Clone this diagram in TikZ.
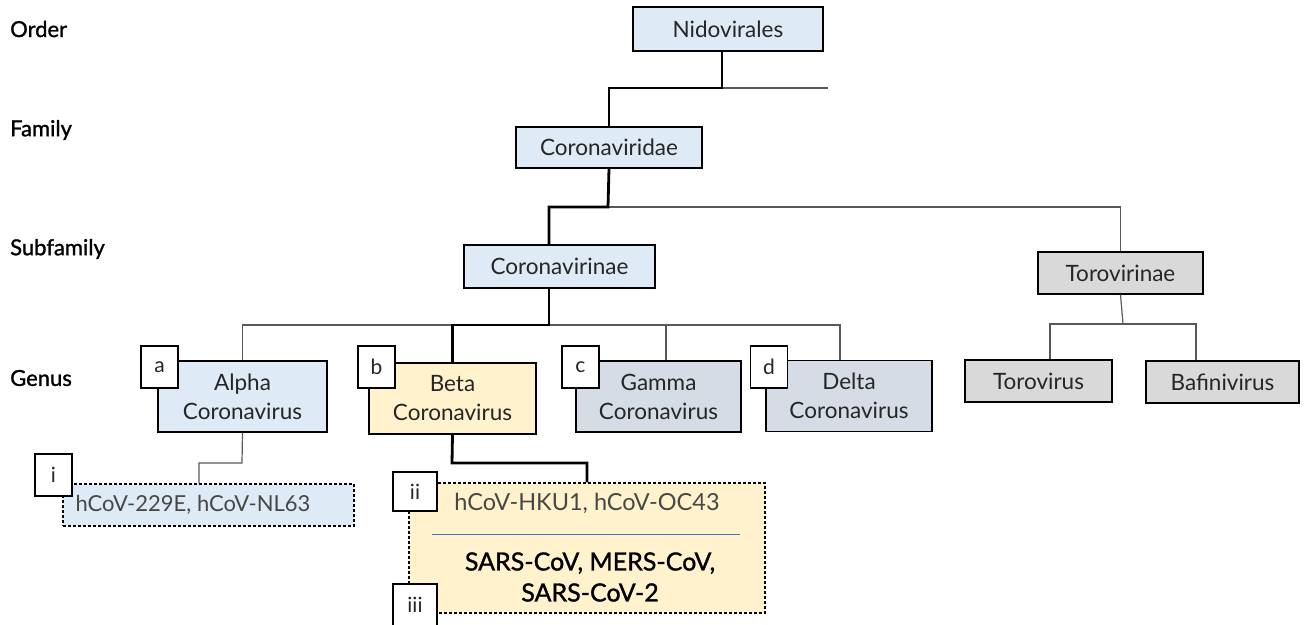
\documentclass[tikz,border=0pt]{standalone}
\usepackage{fontspec}
\setmainfont{Lato}
\newfontfamily\semib[FakeBold=1.2]{Lato}
\definecolor{boxblue}{HTML}{DEEAF6}
\definecolor{boxyellow}{HTML}{FFF2CC}
\definecolor{boxslate}{HTML}{D6DCE5}
\definecolor{boxgrey}{HTML}{D9D9D9}
\definecolor{ink}{HTML}{262626}
\definecolor{wire}{HTML}{595959}
\definecolor{divblue}{HTML}{4472C4}
\begin{document}
\begin{tikzpicture}[x=1pt,y=-1pt]
    \tikzstyle{taxon}=[draw=black, line width=1.3pt, inner sep=0pt, align=center, text=ink,
      font=\fontsize{22.5}{29}\selectfont]
    \tikzstyle{genus}=[taxon, minimum height=71pt]
    \tikzstyle{tag}=[draw=black, fill=white, line width=1.3pt, inner sep=0pt, minimum width=37pt,
      minimum height=42pt, text=ink, font=\fontsize{21}{24}\selectfont]
    \tikzstyle{species}=[draw=black, line width=1.1pt, dash pattern=on 3pt off 2pt, inner sep=0pt]
    \tikzstyle{rank}=[anchor=west, inner sep=0pt, font=\semib\fontsize{22}{24}\selectfont]
    \tikzstyle{thinwire}=[draw=wire, line width=1.2pt]
    \tikzstyle{mainwire}=[draw=black, line width=2.8pt]
    \useasboundingbox (0,0) rectangle (1309,624);
    \node[rank] (ord) at (10,29) {Order};
    \node[rank] (fml) at (10,130) {Family};
    \node[rank] (sub) at (10,249) {Subfamily};
    \node[rank] (gen) at (10,378) {Genus};
    \node[taxon, fill=boxblue, minimum width=190pt, minimum height=44pt] (nido) at (728,29) {Nidovirales};
    \node[taxon, fill=boxblue, minimum width=186pt, minimum height=41pt] (corv) at (609,147.5) {Coronaviridae};
    \node[taxon, fill=boxblue, minimum width=191pt, minimum height=43pt] (cori) at (559.5,266.5) {Coronavirinae};
    \node[taxon, fill=boxgrey, minimum width=165pt, minimum height=42pt] (tori) at (1120.5,273) {Torovirinae};
    \node[genus, fill=boxblue, minimum width=169pt] (alpha) at (242.5,396.5) {Alpha\\Coronavirus};
    \node[genus, fill=boxyellow, minimum width=167pt] (beta) at (452.5,398.5) {Beta\\Coronavirus};
    \node[genus, fill=boxslate, minimum width=165pt] (gamma) at (658.5,396.5) {Gamma\\Coronavirus};
    \node[genus, fill=boxslate, minimum width=166pt] (delta) at (849,396) {Delta\\Coronavirus};
    \node[taxon, fill=boxgrey, minimum width=147pt, minimum height=42pt] (torv) at (1038.5,381) {Torovirus};
    \node[taxon, fill=boxgrey, minimum width=153pt, minimum height=42pt] (bafv) at (1222.5,382) {Bafinivirus};
    \node[species, fill=boxblue, minimum width=291pt, minimum height=42pt] (spa) at (208.5,505) {};
    \node[species, fill=boxyellow, minimum width=356pt, minimum height=130pt] (spb) at (587,548) {};
    \node[text=wire!80!black, font=\fontsize{22}{24}\selectfont] (spatxt) at (193,505) {hCoV-229E, hCoV-NL63};
    \node[text=wire!80!black, font=\fontsize{23.5}{26}\selectfont] (spbtop) at (587,503) {hCoV-HKU1, hCoV-OC43};
    \node[align=center, font=\semib\fontsize{25}{31}\selectfont] (spbbot) at (590,577) {SARS-CoV, MERS-CoV,\\SARS-CoV-2};
    \draw[divblue, line width=1pt] ([xshift=-155pt,yshift=14pt]spb.center) -- ([xshift=153pt,yshift=14pt]spb.center);
    \coordinate (j1) at (722,88);
    \coordinate (j1end) at (828,88);
    \coordinate (j2) at (608,207);
    \coordinate (j3) at (549,325);
    \coordinate (j4) at (1123,324);
    \coordinate (j5) at (242,463);
    \coordinate (j6) at (452,463);
    \draw[thinwire] (j1) -- (j1end);
    \draw[thinwire] (j2) -| (tori.north);
    \draw[thinwire] (j3) -| (alpha.north);
    \draw[thinwire] (j3) -| ([xshift=7.5pt]gamma.north);
    \draw[thinwire] (j3) -| ([xshift=-9pt]delta.north);
    \draw[thinwire] (tori.south) -- (j4);
    \draw[thinwire] (j4) -| ([xshift=11.5pt]torv.north);
    \draw[thinwire] (j4) -| ([xshift=-26.5pt]bafv.north);
    \draw[thinwire] (alpha.south) -- (j5) -| ([xshift=-9.5pt]spa.north);
    \draw[mainwire] ([xshift=-6pt]nido.south) -- (j1) -| (corv.north);
    \draw[mainwire] (corv.south) -- (j2) -| ([xshift=-10.5pt]cori.north);
    \draw[mainwire] ([xshift=-10.5pt]cori.south) -- (j3) -| (beta.north);
    \draw[mainwire] (beta.south) -- (j6) -| (spb.north);
    \node[tag] (ta) at (159.5,367) {a};
    \node[tag] (tb) at (376.5,367) {b};
    \node[tag] (tc) at (580.5,367) {c};
    \node[tag] (td) at (769,367) {d};
    \node[tag] (ti) at (53.5,475) {i};
    \node[tag, minimum width=44pt, minimum height=39pt] (tii) at (415,491.5) {ii};
    \node[tag, minimum width=44pt] (tiii) at (415,605) {iii};
\end{tikzpicture}
\end{document}
